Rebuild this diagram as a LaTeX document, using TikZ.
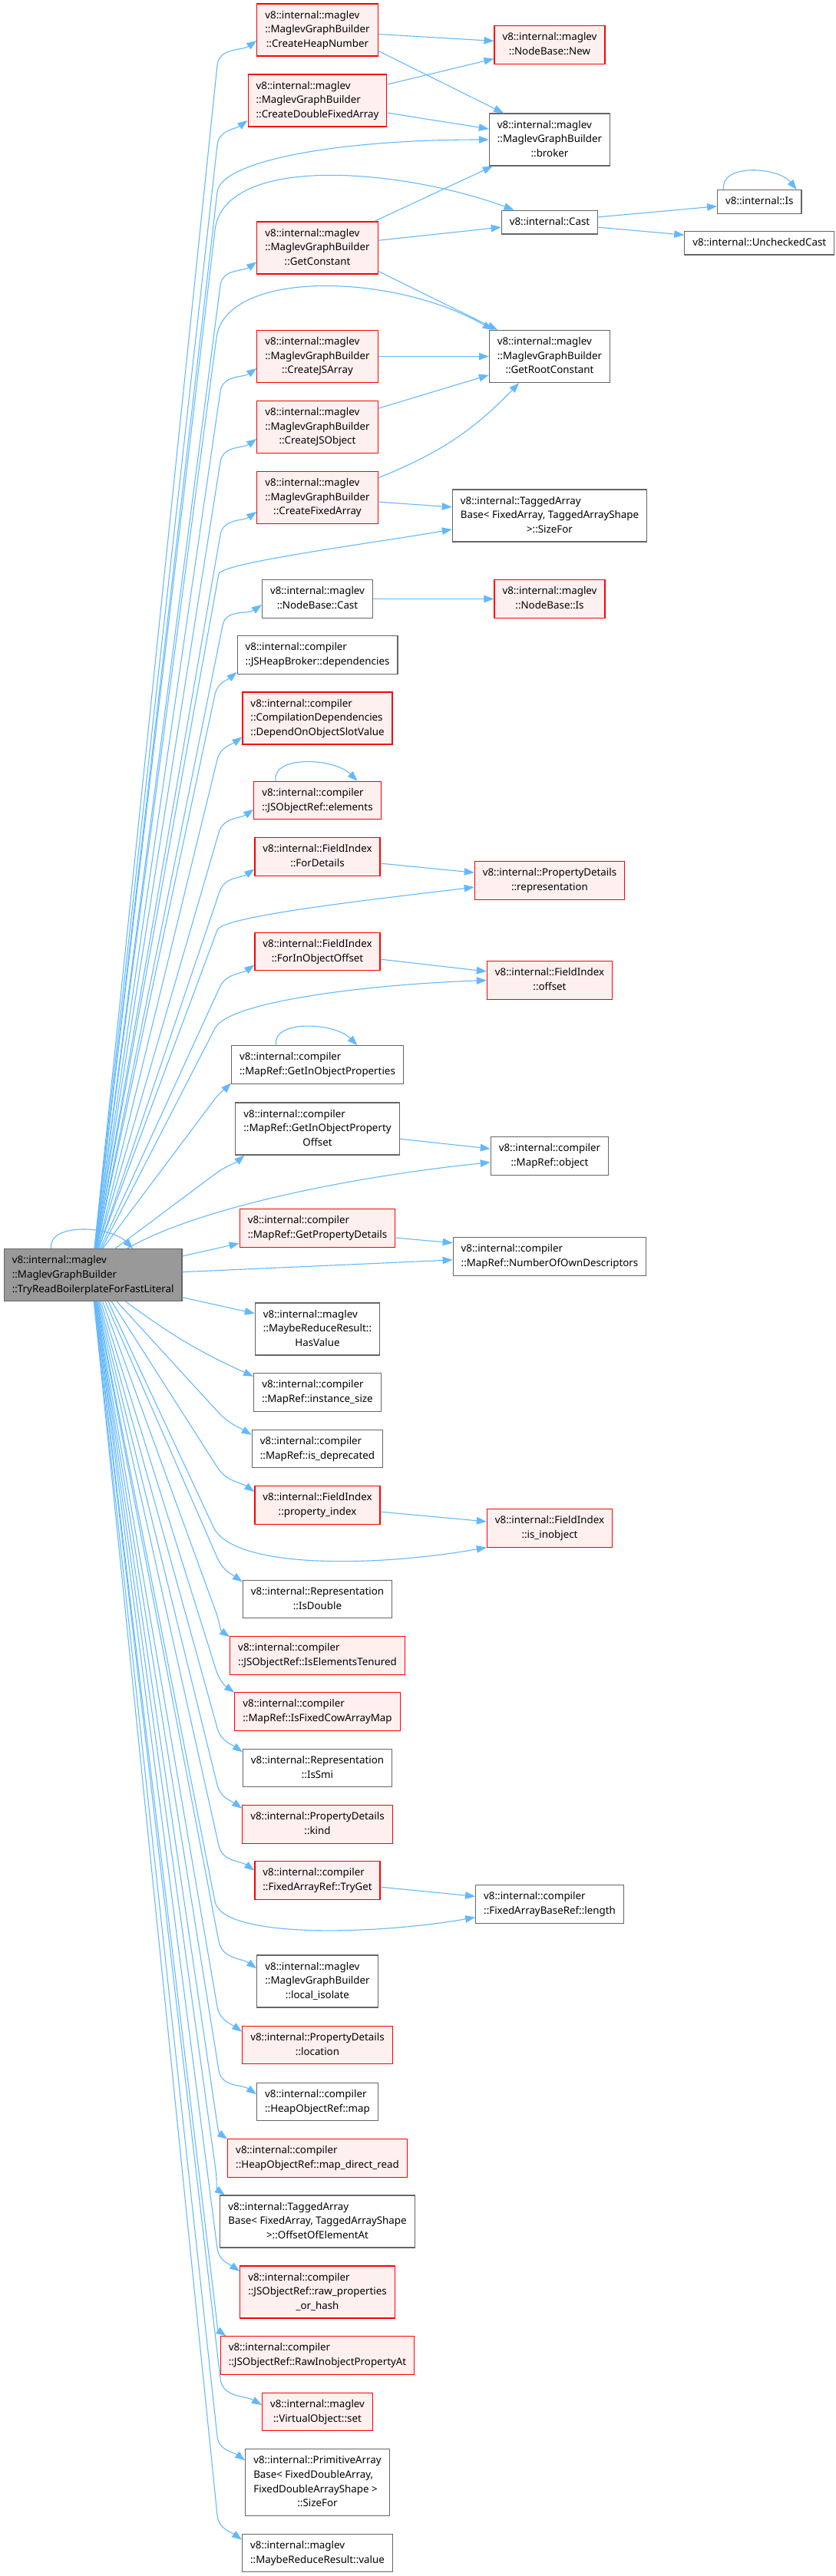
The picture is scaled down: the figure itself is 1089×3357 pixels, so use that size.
\documentclass[tikz,border=0pt]{standalone}
\usepackage{fontspec}
\setmainfont{Noto Sans}
\usepackage{xcolor}
\usetikzlibrary{arrows.meta}

\definecolor{edgeblue}{HTML}{63B8FF}
\definecolor{boxgray}{HTML}{666666}
\definecolor{redfill}{HTML}{FFF0F0}
\definecolor{mainfill}{HTML}{999999}

% lines left aligned, last line centred
\newcommand{\fntext}[2]{\begin{tabular}{@{}l@{}}#1\\\multicolumn{1}{@{}c@{}}{#2}\end{tabular}}
\newcommand{\fnone}[1]{\begin{tabular}{@{}c@{}}#1\end{tabular}}

\begin{document}
\begin{tikzpicture}[
    x=1pt, y=1pt,
    every node/.style={font=\fontsize{13.33}{18.6}\selectfont},
    fnbox/.style={draw=boxgray, fill=white, line width=1.2pt, inner xsep=10.5pt, inner ysep=6.1pt},
    fnred/.style={fnbox, draw=red, fill=redfill},
    fnmain/.style={fnbox, fill=mainfill},
    calledge/.style={draw=edgeblue, line width=1.1pt, -{Triangle[length=13pt,width=9.5pt]}},
]
\useasboundingbox (0,0) rectangle (1089,-3357);

\node[fnmain] (main) at (121.2,-1661.7) {\fntext{v8::internal::maglev\\::MaglevGraphBuilder}{::TryReadBoilerplateForFastLiteral}};

% first column of callees
\node[fnred] (heapnum) at (413.5,-39) {\fntext{v8::internal::maglev\\::MaglevGraphBuilder}{::CreateHeapNumber}};
\node[fnred] (dblarr) at (413.5,-131) {\fntext{v8::internal::maglev\\::MaglevGraphBuilder}{::CreateDoubleFixedArray}};
\node[fnred] (getconst) at (413.5,-323) {\fntext{v8::internal::maglev\\::MaglevGraphBuilder}{::GetConstant}};
\node[fnred] (jsarr) at (413.5,-464.5) {\fntext{v8::internal::maglev\\::MaglevGraphBuilder}{::CreateJSArray}};
\node[fnred] (jsobj) at (413.5,-556.5) {\fntext{v8::internal::maglev\\::MaglevGraphBuilder}{::CreateJSObject}};
\node[fnred] (fixarr) at (413.5,-648.5) {\fntext{v8::internal::maglev\\::MaglevGraphBuilder}{::CreateFixedArray}};
\node[fnbox] (nbcast) at (413.5,-780.5) {\fntext{v8::internal::maglev}{::NodeBase::Cast}};
\node[fnbox] (deps) at (413.5,-853.5) {\fntext{v8::internal::compiler}{::JSHeapBroker::dependencies}};
\node[fnred] (slotval) at (413.5,-936) {\fntext{v8::internal::compiler\\::CompilationDependencies}{::DependOnObjectSlotValue}};
\node[fnred] (elems) at (413.5,-1043) {\fntext{v8::internal::compiler}{::JSObjectRef::elements}};
\node[fnred] (fordet) at (413.5,-1116.5) {\fntext{v8::internal::FieldIndex}{::ForDetails}};
\node[fnred] (forinobj) at (413.5,-1240) {\fntext{v8::internal::FieldIndex}{::ForInObjectOffset}};
\node[fnbox] (inobjprops) at (413.5,-1387.5) {\fntext{v8::internal::compiler}{::MapRef::GetInObjectProperties}};
\node[fnbox] (inobjoff) at (413.5,-1471) {\fntext{v8::internal::compiler\\::MapRef::GetInObjectProperty}{Offset}};
\node[fnred] (propdet) at (413.5,-1600.5) {\fntext{v8::internal::compiler}{::MapRef::GetPropertyDetails}};
\node[fnbox] (hasval) at (413.5,-1732) {\fntext{v8::internal::maglev\\::MaybeReduceResult::}{HasValue}};
\node[fnbox] (instsize) at (413.5,-1814.5) {\fntext{v8::internal::compiler}{::MapRef::instance\_size}};
\node[fnbox] (isdep) at (413.5,-1888) {\fntext{v8::internal::compiler}{::MapRef::is\_deprecated}};
\node[fnred] (propidx) at (413.5,-1961.5) {\fntext{v8::internal::FieldIndex}{::property\_index}};
\node[fnbox] (isdbl) at (413.5,-2084) {\fntext{v8::internal::Representation}{::IsDouble}};
\node[fnred] (tenured) at (413.5,-2157.5) {\fntext{v8::internal::compiler}{::JSObjectRef::IsElementsTenured}};
\node[fnred] (cowmap) at (413.5,-2230.5) {\fntext{v8::internal::compiler}{::MapRef::IsFixedCowArrayMap}};
\node[fnbox] (issmi) at (413.5,-2304) {\fntext{v8::internal::Representation}{::IsSmi}};
\node[fnred] (pdkind) at (413.5,-2377.5) {\fntext{v8::internal::PropertyDetails}{::kind}};
\node[fnred] (tryget) at (413.5,-2450.5) {\fntext{v8::internal::compiler}{::FixedArrayRef::TryGet}};
\node[fnbox] (isolate) at (413.5,-2582) {\fntext{v8::internal::maglev\\::MaglevGraphBuilder}{::local\_isolate}};
\node[fnred] (pdloc) at (413.5,-2665) {\fntext{v8::internal::PropertyDetails}{::location}};
\node[fnbox] (hmap) at (413.5,-2739) {\fntext{v8::internal::compiler}{::HeapObjectRef::map}};
\node[fnred] (mapdr) at (413.5,-2812.5) {\fntext{v8::internal::compiler}{::HeapObjectRef::map\_direct\_read}};
\node[fnbox] (offelem) at (413.5,-2895) {\fntext{v8::internal::TaggedArray\\Base< FixedArray, TaggedArrayShape}{>::OffsetOfElementAt}};
\node[fnred] (rawprops) at (413.5,-2987) {\fntext{v8::internal::compiler\\::JSObjectRef::raw\_properties}{\_or\_hash}};
\node[fnred] (rawinobj) at (413.5,-3069.5) {\fntext{v8::internal::compiler}{::JSObjectRef::RawInobjectPropertyAt}};
\node[fnred] (vset) at (413.5,-3143) {\fntext{v8::internal::maglev}{::VirtualObject::set}};
\node[fnbox] (primsize) at (413.5,-3235) {\fntext{v8::internal::PrimitiveArray\\Base< FixedDoubleArray,\\FixedDoubleArrayShape >}{::SizeFor}};
\node[fnbox] (mrval) at (413.5,-3327) {\fntext{v8::internal::maglev}{::MaybeReduceResult::value}};

% second column
\node[fnred] (nodenew) at (716,-58.5) {\fntext{v8::internal::maglev}{::NodeBase::New}};
\node[fnbox] (broker) at (716,-182) {\fntext{v8::internal::maglev\\::MaglevGraphBuilder}{::broker}};
\node[fnbox] (cast) at (716,-289.5) {\fnone{v8::internal::Cast}};
\node[fnbox] (rootconst) at (716,-464.5) {\fntext{v8::internal::maglev\\::MaglevGraphBuilder}{::GetRootConstant}};
\node[fnbox] (tagsize) at (716,-672) {\fntext{v8::internal::TaggedArray\\Base< FixedArray, TaggedArrayShape}{>::SizeFor}};
\node[fnred] (nbis) at (716,-780.5) {\fntext{v8::internal::maglev}{::NodeBase::Is}};
\node[fnred] (repr) at (716,-1147.5) {\fntext{v8::internal::PropertyDetails}{::representation}};
\node[fnred] (offs) at (716,-1277.5) {\fntext{v8::internal::FieldIndex}{::offset}};
\node[fnbox] (mapobj) at (716,-1506.5) {\fntext{v8::internal::compiler}{::MapRef::object}};
\node[fnbox] (owndesc) at (716,-1637.5) {\fntext{v8::internal::compiler}{::MapRef::NumberOfOwnDescriptors}};
\node[fnred] (isinobj) at (716,-1991.5) {\fntext{v8::internal::FieldIndex}{::is\_inobject}};
\node[fnbox] (arrlen) at (716,-2481.5) {\fntext{v8::internal::compiler}{::FixedArrayBaseRef::length}};

% third column
\node[fnbox] (isfn) at (989.3,-263) {\fnone{v8::internal::Is}};
\node[fnbox] (unchk) at (989.3,-316.5) {\fnone{v8::internal::UncheckedCast}};

% calls from main, upwards
\draw[calledge] ([xshift=-54.5pt]main.north) .. controls +(-5,34) and +(-30,30) .. ([xshift=52pt]main.north);
\draw[calledge] (main.87) -- (283,-85) to[out=84.1, in=215] (heapnum.190);
\draw[calledge] (main.87) -- (283,-189) to[out=83.7, in=215] (dblarr.196);
\draw[calledge] (main.86) -- (283,-250) to[out=83.4, in=180, out distance=40, in distance=200] (broker.west);
\draw[calledge] (main.86) -- (280,-300) to[out=83.3, in=160, out distance=100, in distance=160] (cast.161);
\draw[calledge] (main.85) -- (287,-372) to[out=82.6, in=215] (getconst.193);
\draw[calledge] (main.85) -- (282,-440) to[out=82.4, in=150, out distance=90, in distance=150] (rootconst.155);
\draw[calledge] (main.84) -- (287,-510) to[out=81.7, in=215] (jsarr.191);
\draw[calledge] (main.84) -- (287,-602) to[out=81.0, in=215] (jsobj.191);
\draw[calledge] (main.83) -- (287,-697) to[out=80.2, in=215] (fixarr.193);
\draw[calledge] (main.83) -- (285,-748) to[out=79.7, in=190, out distance=15, in distance=100] (tagsize.188);
\draw[calledge] (main.82) -- (290,-815) to[out=78.6, in=215] (nbcast.186);
\draw[calledge] (main.82) -- (280,-905) to[out=78.0, in=220] (deps.192);
\draw[calledge] (main.80) -- (283,-990) to[out=76.3, in=215] (slotval.194);
\draw[calledge] (main.80) -- (285,-1085) to[out=73.8, in=215] (elems.188);
\draw[calledge] (main.78) -- (286,-1162) to[out=71.3, in=215] (fordet.191);
\draw[calledge] (main.78) -- (283,-1212) to[out=69.6, in=187, out distance=20, in distance=120] (repr.185);
\draw[calledge] (main.75) -- (286,-1287) to[out=65.4, in=215] (forinobj.192);
\draw[calledge] (main.72) -- (280,-1340) to[out=62.8, in=182, out distance=40, in distance=150] (offs.west);
\draw[calledge] (main.70) -- (280,-1432) to[out=53.2, in=225] (inobjprops.192);
\draw[calledge] (main.50) -- (280,-1530) to[out=36.9, in=220] (inobjoff.200);
\draw[calledge] (main.38) to[out=30, in=186, out distance=100, in distance=200] (mapobj.186);
\draw[calledge] (main.12) -- (propdet.191);
\draw[calledge] (main.2) -- (owndesc.182);

% calls from main, downwards
\draw[calledge] (main.-14) -- (hasval.166);
\draw[calledge] (main.-39) to[bend right=6] (instsize.166);
\draw[calledge] (main.-48) -- (283,-1839) to[out=-47.5, in=150] (isdep.168);
\draw[calledge] (main.-55) -- (283,-1912) to[out=-57.5, in=145] (propidx.168);
\draw[calledge] (main.-60) -- (278,-1990) to[out=-65, in=190, out distance=60, in distance=150] (isinobj.197);
\draw[calledge] (main.-65) -- (283,-2030) to[out=-66.4, in=145] (isdbl.167);
\draw[calledge] (main.-70) -- (281,-2100) to[out=-70, in=145] (tenured.168);
\draw[calledge] (main.-74) -- (281,-2175) to[out=-72.6, in=145] (cowmap.167);
\draw[calledge] (main.-77) -- (283,-2252) to[out=-74.5, in=145] (issmi.168);
\draw[calledge] (main.-79) -- (283,-2326) to[out=-76.2, in=145] (pdkind.168);
\draw[calledge] (main.-81) -- (285,-2405) to[out=-77.4, in=145] (tryget.171);
\draw[calledge] (main.-82) -- (280,-2478) to[out=-78.9, in=190, out distance=50, in distance=130] (arrlen.190);
\draw[calledge] (main.-83) -- (285,-2530) to[out=-79.2, in=145] (isolate.168);
\draw[calledge] (main.-84) -- (283,-2615) to[out=-80.2, in=145] (pdloc.170);
\draw[calledge] (main.-85) -- (285,-2698) to[out=-80.9, in=145] (hmap.173);
\draw[calledge] (main.-85) -- (281,-2755) to[out=-81.6, in=145] (mapdr.168);
\draw[calledge] (main.-86) -- (281,-2828) to[out=-82.1, in=145] (offelem.164);
\draw[calledge] (main.-86) -- (283,-2930) to[out=-82.6, in=145] (rawprops.165);
\draw[calledge] (main.-87) -- (281,-3013) to[out=-83.2, in=145] (rawinobj.168);
\draw[calledge] (main.-87) -- (287,-3100) to[out=-83.3, in=150] (vset.173);
\draw[calledge] (main.-88) -- (283,-3175) to[out=-83.8, in=145] (primsize.163);
\draw[calledge] (main.-88) -- (283,-3278) to[out=-84.2, in=145] (mrval.170);

% calls between callees
\draw[calledge] (heapnum.-4) -- (nodenew.176);
\draw[calledge] (heapnum.-19) -- (broker.150);
\draw[calledge] (dblarr.13) -- (nodenew.194);
\draw[calledge] (dblarr.-10) -- (broker.170);
\draw[calledge] (getconst.25) -- (broker.205);
\draw[calledge] (getconst.7) -- (cast.186);
\draw[calledge] (getconst.-21) -- (rootconst.153);
\draw[calledge] (cast.6) -- (isfn.186);
\draw[calledge] (cast.-6) -- (unchk.174);
\draw[calledge] ([xshift=-46.7pt]isfn.north) .. controls +(-5,34) and +(-25,30) .. ([xshift=48.5pt]isfn.north);
\draw[calledge] (jsarr) -- (rootconst);
\draw[calledge] (jsobj.17) -- (rootconst.197);
\draw[calledge] (fixarr.18) to[bend right=12] (rootconst.221);
\draw[calledge] (fixarr.-4) -- (tagsize.175);
\draw[calledge] (nbcast) -- (nbis);
\draw[calledge] ([xshift=-54.5pt]elems.north) .. controls +(-5,34) and +(-30,30) .. ([xshift=52pt]elems.north);
\draw[calledge] (fordet.-6) -- (repr.174);
\draw[calledge] (forinobj.-7) -- (offs.172);
\draw[calledge] ([xshift=-54pt]inobjprops.north) .. controls +(-5,34) and +(-30,30) .. ([xshift=52pt]inobjprops.north);
\draw[calledge] (inobjoff.-7) -- (mapobj.173);
\draw[calledge] (propdet.-7) -- (owndesc.172);
\draw[calledge] (propidx.-6) -- (isinobj.174);
\draw[calledge] (tryget.-6) -- (arrlen.174);
\end{tikzpicture}
\end{document}
